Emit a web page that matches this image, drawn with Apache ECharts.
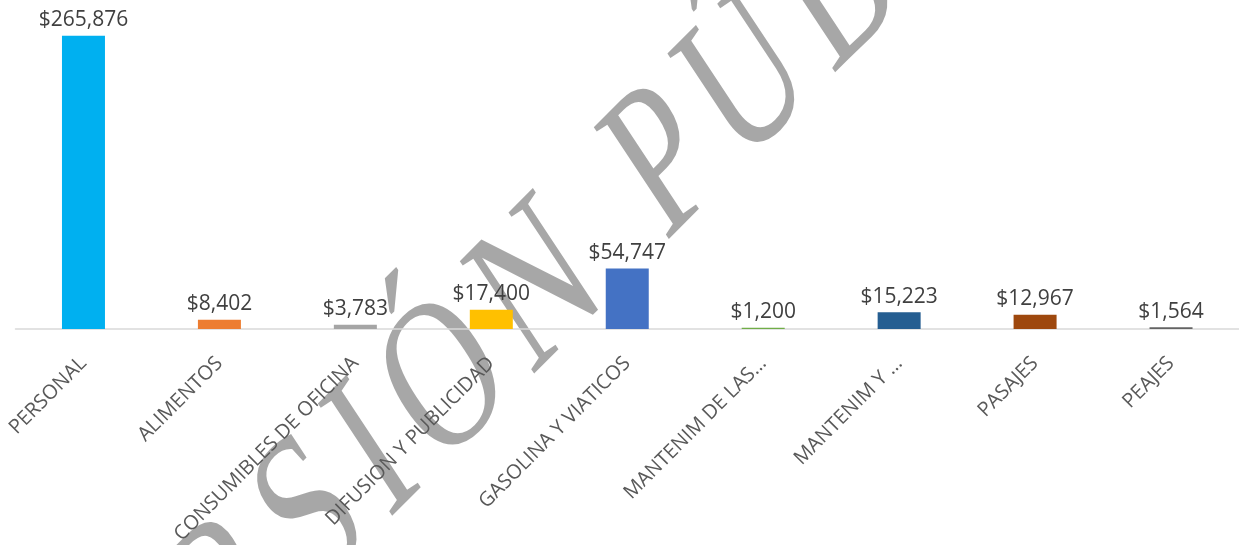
<!DOCTYPE html>
<html>
<head>
<meta charset="utf-8">
<script src="https://cdn.jsdelivr.net/npm/echarts@6/dist/echarts.min.js"></script>
<style>
  html, body { margin: 0; padding: 0; background: #fff; }
  #chart { width: 1239px; height: 545px; }
</style>
</head>
<body>
<div id="chart"></div>
<script>
const categories = ['PERSONAL', 'ALIMENTOS', 'CONSUMIBLES DE OFICINA', 'DIFUSION Y PUBLICIDAD',
  'GASOLINA Y VIATICOS', 'MANTENIM DE LAS…', 'MANTENIM Y …', 'PASAJES', 'PEAJES']
const amounts = [265876, 8402, 3783, 17400, 54747, 1200, 15223, 12967, 1564]
const barColors = ['#00b0f0', '#ed7d31', '#a5a5a5', '#ffc000', '#4472c4',
  '#70ad47', '#255e91', '#9e480e', '#636363']
const watermark = 'VERSIÓN PÚBLICA'

// watermark letters laid out one by one (narrow, spaced, then rotated and stretched)
const wmFont = 180
const wmScaleX = 0.78
const wmGap = 18
const ctx = document.createElement('canvas').getContext('2d')
ctx.font = wmFont + 'px "Liberation Serif"'
const letters = [...watermark]
let cursor = 0
const letterPos = letters.map(c => {
  const w = ctx.measureText(c).width * wmScaleX
  const mid = cursor + w / 2
  cursor += w + wmGap
  return mid
})
const anchor = letterPos[letters.indexOf('Ó')]
const letterEls = letters.map((c, i) => ({
  type: 'text',
  x: letterPos[i] - anchor,
  y: 0,
  scaleX: wmScaleX,
  style: {
    text: c,
    fontFamily: 'Liberation Serif',
    fontSize: wmFont,
    fill: 'rgba(80,80,80,0.5)',
    align: 'center',
    verticalAlign: 'middle'
  }
}))

const chart = echarts.init(document.getElementById('chart'))

chart.setOption({
  animation: false,
  grid: {
    left: 15.5,
    right: 0,
    top: -2,
    bottom: 216,
    containLabel: false,
    outerBoundsMode: 'none'
  },
  xAxis: {
    type: 'category',
    data: categories,
    axisLine: { lineStyle: { color: '#d9d9d9', width: 1.5 } },
    axisTick: { show: false },
    axisLabel: {
      interval: 0,
      rotate: 45,
      margin: 17,
      padding: [0, 10, 0, 0],
      verticalAlign: 'top',
      color: '#595959',
      fontFamily: 'Open Sans',
      fontSize: 20
    }
  },
  yAxis: {
    type: 'value',
    min: 0,
    max: 300000,
    show: false,
    splitLine: { show: false }
  },
  series: [{
    type: 'bar',
    barWidth: 43,
    data: amounts.map((v, i) => ({ value: v, itemStyle: { color: barColors[i] } })),
    label: {
      show: true,
      position: 'top',
      distance: 5,
      color: '#404040',
      fontFamily: 'Open Sans',
      fontSize: 21,
      formatter: function (p) {
        return '$' + p.value.toLocaleString('en-US')
      }
    }
  }],
  graphic: [{
    type: 'group',
    x: 448,
    y: 385,
    scaleY: 1.23,
    z: 100,
    silent: true,
    children: [{
      type: 'group',
      rotation: 0.683,
      children: letterEls
    }]
  }]
})
</script>
</body>
</html>
